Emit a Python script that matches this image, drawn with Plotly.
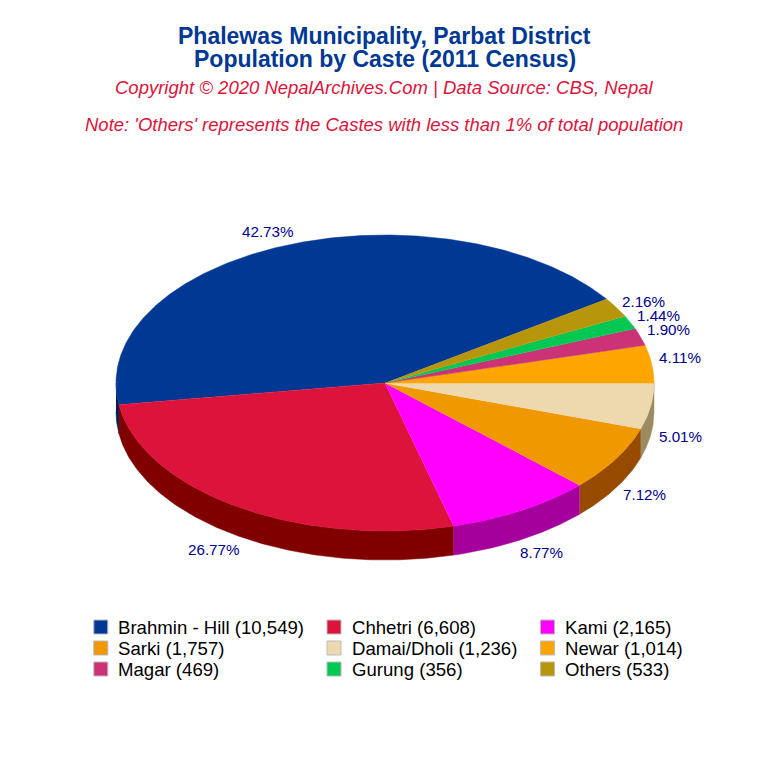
#!/usr/bin/python3
import math
import plotly.graph_objects as go

# データ
castes = ["Brahmin - Hill", "Chhetri", "Kami", "Sarki", "Damai/Dholi",
          "Newar", "Magar", "Gurung", "Others"]
population = [10549, 6608, 2165, 1757, 1236, 1014, 469, 356, 533]
percent_labels = ["42.73%", "26.77%", "8.77%", "7.12%", "5.01%",
                  "4.11%", "1.90%", "1.44%", "2.16%"]

top_colors = ["#003893", "#DC143C", "#FF00FF", "#F09800", "#EED8AE",
              "#FFA500", "#CC3377", "#00C853", "#B8960C"]
side_colors = ["#001A52", "#800000", "#A5009C", "#964B00", "#9C8A60",
               "#A56A00", "#802048", "#007A32", "#78620A"]

# 円の形 (ページのピクセル単位)
CX, CY = 385, 383
RX, RY = 269, 148
DEPTH = 29
label_shift = [(-18, -14), (-23, 43), (20, 42), (29, 36), (30, 30),
               (28, -6), (28, -7), (28, -7), (27, -6)]

FONT = "Liberation Sans"
BLUE = "#003893"
RED = "#DC143C"


def rim(deg, drop=0):
    t = math.radians(deg)
    return CX + RX * math.cos(t), CY - RY * math.sin(t) + drop


def arc(start, end, drop=0):
    n = max(2, int((end - start) * 2))
    return [rim(start + (end - start) * i / n, drop) for i in range(n + 1)]


fig = go.Figure()

# 開始角: 最初の5区分の終わりが真東になる
total = sum(population)
start_angle = 360 * sum(population[5:]) / total

spans = []
angle = start_angle
for value in population:
    sweep = 360 * value / total
    spans.append((angle, angle + sweep))
    angle += sweep

# 側面 (下半分だけ)
for (a, b), color in zip(spans, side_colors):
    pieces = [(max(a, 180), min(b, 360)), (max(a, 540), min(b, 720))]
    for lo, hi in pieces:
        if hi <= lo:
            continue
        pts = arc(lo, hi) + arc(lo, hi, DEPTH)[::-1]
        fig.add_trace(go.Scatter(
            x=[p[0] for p in pts], y=[p[1] for p in pts],
            mode="lines", fill="toself", fillcolor=color,
            line=dict(color=color, width=0.5), hoverinfo="skip"))

# 上面
for (a, b), color in zip(spans, top_colors):
    pts = [(CX, CY)] + arc(a, b)
    fig.add_trace(go.Scatter(
        x=[p[0] for p in pts], y=[p[1] for p in pts],
        mode="lines", fill="toself", fillcolor=color,
        line=dict(color=color, width=0.5), hoverinfo="skip"))

annotations = []


def add_text(x, y, text, size, color, anchor="center", italic=False, bold=False):
    if bold:
        text = "<b>" + text + "</b>"
    if italic:
        text = "<i>" + text + "</i>"
    annotations.append(dict(
        x=x, y=y, xref="x", yref="y", text=text, showarrow=False,
        xanchor=anchor, yanchor="middle",
        font=dict(family=FONT, size=size, color=color)))


# パーセントのラベル
for (a, b), text, (dx, dy) in zip(spans, percent_labels, label_shift):
    mid = (a + b) / 2
    px, py = rim(mid)
    add_text(px + dx, py + dy, text, 15.2, "#00008B")

# タイトル
add_text(384.5, 36, "Phalewas Municipality, Parbat District", 23, BLUE, bold=True)
add_text(384.5, 59, "Population by Caste (2011 Census)", 23, BLUE, bold=True)
add_text(384, 87, "Copyright © 2020 NepalArchives.Com | Data Source: CBS, Nepal", 18.5, RED, italic=True)
add_text(384, 124, "Note: 'Others' represents the Castes with less than 1% of total population", 18.5, RED, italic=True)

# 凡例
key_x = [100.8, 334, 547.5]
text_x = [116, 350, 563]
row_y = [627, 648, 669]
for i, (name, value, color) in enumerate(zip(castes, population, top_colors)):
    row, col = divmod(i, 3)
    fig.add_trace(go.Scatter(
        x=[key_x[col]], y=[row_y[row]], mode="markers",
        marker=dict(symbol="square", size=14, color=color,
                    line=dict(color="#BBBBBB", width=1)),
        hoverinfo="skip"))
    add_text(text_x[col], row_y[row], f"{name} ({value:,})", 18.6, "#000000", anchor="left")

fig.update_layout(
    width=768, height=768,
    margin=dict(l=0, r=0, t=0, b=0),
    paper_bgcolor="white", plot_bgcolor="white",
    showlegend=False,
    annotations=annotations,
)
# ページの余白 8px の分だけ軸をずらす
fig.update_xaxes(range=[8, 776], visible=False, fixedrange=True)
fig.update_yaxes(range=[776, 8], visible=False, fixedrange=True)

fig.write_html("out.html")
